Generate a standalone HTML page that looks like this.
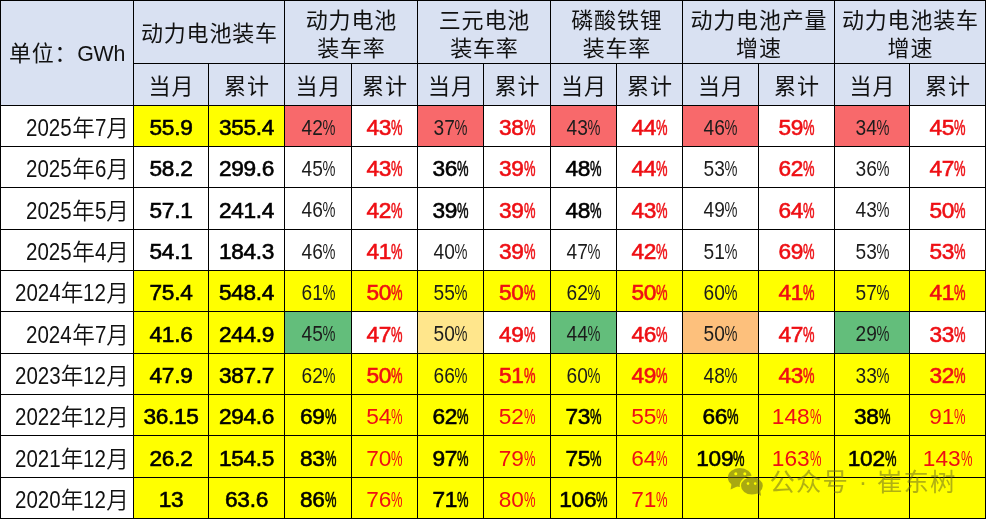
<!DOCTYPE html>
<html lang="zh-CN">
<head>
<meta charset="utf-8">
<title>动力电池装车</title>
<style>
html,body{margin:0;padding:0;background:#fff;}
body{width:987px;height:520px;overflow:hidden;position:relative;font-family:"Liberation Sans","Noto Sans CJK SC",sans-serif;}
#t{position:absolute;left:0;top:0;width:986px;height:519px;background:#000;}
.c{position:absolute;box-sizing:border-box;display:flex;align-items:center;justify-content:center;text-align:center;white-space:nowrap;overflow:visible;color:#111;}
.h{background:#D9E1F2;font-size:22px;font-weight:400;line-height:31px;color:#111;letter-spacing:0.8px;}
.h span{position:relative;display:block;top:1.2px;left:0.4px;}
.h .t2{line-height:28px;top:2.7px;}
.h .s2{top:2px;}
.h b{font-weight:400;font-size:21.33px;letter-spacing:-0.3px;}
.l{justify-content:flex-end;background:#fff;font-size:22.67px;font-weight:350;padding-right:4px;color:#111;}
.l span{position:relative;top:0.5px;}
.l i{font-style:normal;font-size:23.2px;font-weight:400;display:inline-block;transform:scaleX(.885);transform-origin:0 50%;text-align:left;}
.l .y4{width:45.8px;}
.l .m1{width:11.5px;}
.l .m2{width:23px;}
.n{font-size:22.67px;}
.n u{text-decoration:none;position:relative;top:1.5px;display:inline-block;}
.b{font-weight:400;color:#000;-webkit-text-stroke:0.6px currentColor;letter-spacing:-0.3px;}
.g{font-weight:400;font-size:22px;color:#1c1c1c;}
.g u{transform:scaleX(.87);left:0.5px;}
.r{color:#EE0F14;}
.p{display:inline-block;letter-spacing:0;transform-origin:0 50%;}
.b .p{width:11.5px;transform:scaleX(.57);}
.g .p{width:14.6px;transform:scaleX(.76);}
.a{font-weight:400;}
.a .p{width:11.5px;transform:scaleX(.57);}
</style>
</head>
<body>
<div id="t">
<div class="c h" style="left:1px;top:1px;width:132px;height:104px;justify-content:flex-start;padding-left:7.5px;"><span>单位：<b>GWh</b></span></div>
<div class="c h" style="left:134px;top:1px;width:150px;height:62px;"><span>动力电池装车</span></div>
<div class="c h" style="left:285px;top:1px;width:132px;height:62px;"><span class="t2">动力电池<br>装车率</span></div>
<div class="c h" style="left:418px;top:1px;width:132px;height:62px;"><span class="t2">三元电池<br>装车率</span></div>
<div class="c h" style="left:551px;top:1px;width:131px;height:62px;"><span class="t2">磷酸铁锂<br>装车率</span></div>
<div class="c h" style="left:683px;top:1px;width:151px;height:62px;"><span class="t2">动力电池产量<br>增速</span></div>
<div class="c h" style="left:835px;top:1px;width:150px;height:62px;"><span class="t2">动力电池装车<br>增速</span></div>
<div class="c h" style="left:134px;top:64px;width:74px;height:41px;"><span class="s2">当月</span></div>
<div class="c h" style="left:209px;top:64px;width:75px;height:41px;"><span class="s2">累计</span></div>
<div class="c h" style="left:285px;top:64px;width:66px;height:41px;"><span class="s2">当月</span></div>
<div class="c h" style="left:352px;top:64px;width:65px;height:41px;"><span class="s2">累计</span></div>
<div class="c h" style="left:418px;top:64px;width:65px;height:41px;"><span class="s2">当月</span></div>
<div class="c h" style="left:484px;top:64px;width:66px;height:41px;"><span class="s2">累计</span></div>
<div class="c h" style="left:551px;top:64px;width:65px;height:41px;"><span class="s2">当月</span></div>
<div class="c h" style="left:617px;top:64px;width:65px;height:41px;"><span class="s2">累计</span></div>
<div class="c h" style="left:683px;top:64px;width:75px;height:41px;"><span class="s2">当月</span></div>
<div class="c h" style="left:759px;top:64px;width:75px;height:41px;"><span class="s2">累计</span></div>
<div class="c h" style="left:835px;top:64px;width:74px;height:41px;"><span class="s2">当月</span></div>
<div class="c h" style="left:910px;top:64px;width:75px;height:41px;"><span class="s2">累计</span></div>
<div class="c l" style="left:1px;top:106px;width:132px;height:40px;"><span><i class="y4">2025</i>年<i class="m1">7</i>月</span></div>
<div class="c n b" style="left:134px;top:106px;width:74px;height:40px;background:#FFFF00;"><u>55.9</u></div>
<div class="c n b" style="left:209px;top:106px;width:75px;height:40px;background:#FFFF00;"><u>355.4</u></div>
<div class="c n g" style="left:285px;top:106px;width:66px;height:40px;background:#F8696B;"><u>42<span class="p">%</span></u></div>
<div class="c n b r" style="left:352px;top:106px;width:65px;height:40px;background:#FFFFFF;"><u>43<span class="p">%</span></u></div>
<div class="c n g" style="left:418px;top:106px;width:65px;height:40px;background:#F8696B;"><u>37<span class="p">%</span></u></div>
<div class="c n b r" style="left:484px;top:106px;width:66px;height:40px;background:#FFFFFF;"><u>38<span class="p">%</span></u></div>
<div class="c n g" style="left:551px;top:106px;width:65px;height:40px;background:#F8696B;"><u>43<span class="p">%</span></u></div>
<div class="c n b r" style="left:617px;top:106px;width:65px;height:40px;background:#FFFFFF;"><u>44<span class="p">%</span></u></div>
<div class="c n g" style="left:683px;top:106px;width:75px;height:40px;background:#F8696B;"><u>46<span class="p">%</span></u></div>
<div class="c n b r" style="left:759px;top:106px;width:75px;height:40px;background:#FFFFFF;"><u>59<span class="p">%</span></u></div>
<div class="c n g" style="left:835px;top:106px;width:74px;height:40px;background:#F8696B;"><u>34<span class="p">%</span></u></div>
<div class="c n b r" style="left:910px;top:106px;width:75px;height:40px;background:#FFFFFF;"><u>45<span class="p">%</span></u></div>
<div class="c l" style="left:1px;top:147px;width:132px;height:40px;"><span><i class="y4">2025</i>年<i class="m1">6</i>月</span></div>
<div class="c n b" style="left:134px;top:147px;width:74px;height:40px;background:#FFFFFF;"><u>58.2</u></div>
<div class="c n b" style="left:209px;top:147px;width:75px;height:40px;background:#FFFFFF;"><u>299.6</u></div>
<div class="c n g" style="left:285px;top:147px;width:66px;height:40px;background:#FFFFFF;"><u>45<span class="p">%</span></u></div>
<div class="c n b r" style="left:352px;top:147px;width:65px;height:40px;background:#FFFFFF;"><u>43<span class="p">%</span></u></div>
<div class="c n b" style="left:418px;top:147px;width:65px;height:40px;background:#FFFFFF;"><u>36<span class="p">%</span></u></div>
<div class="c n b r" style="left:484px;top:147px;width:66px;height:40px;background:#FFFFFF;"><u>39<span class="p">%</span></u></div>
<div class="c n b" style="left:551px;top:147px;width:65px;height:40px;background:#FFFFFF;"><u>48<span class="p">%</span></u></div>
<div class="c n b r" style="left:617px;top:147px;width:65px;height:40px;background:#FFFFFF;"><u>44<span class="p">%</span></u></div>
<div class="c n g" style="left:683px;top:147px;width:75px;height:40px;background:#FFFFFF;"><u>53<span class="p">%</span></u></div>
<div class="c n b r" style="left:759px;top:147px;width:75px;height:40px;background:#FFFFFF;"><u>62<span class="p">%</span></u></div>
<div class="c n g" style="left:835px;top:147px;width:74px;height:40px;background:#FFFFFF;"><u>36<span class="p">%</span></u></div>
<div class="c n b r" style="left:910px;top:147px;width:75px;height:40px;background:#FFFFFF;"><u>47<span class="p">%</span></u></div>
<div class="c l" style="left:1px;top:188px;width:132px;height:41px;"><span><i class="y4">2025</i>年<i class="m1">5</i>月</span></div>
<div class="c n b" style="left:134px;top:188px;width:74px;height:41px;background:#FFFFFF;"><u>57.1</u></div>
<div class="c n b" style="left:209px;top:188px;width:75px;height:41px;background:#FFFFFF;"><u>241.4</u></div>
<div class="c n g" style="left:285px;top:188px;width:66px;height:41px;background:#FFFFFF;"><u>46<span class="p">%</span></u></div>
<div class="c n b r" style="left:352px;top:188px;width:65px;height:41px;background:#FFFFFF;"><u>42<span class="p">%</span></u></div>
<div class="c n b" style="left:418px;top:188px;width:65px;height:41px;background:#FFFFFF;"><u>39<span class="p">%</span></u></div>
<div class="c n b r" style="left:484px;top:188px;width:66px;height:41px;background:#FFFFFF;"><u>39<span class="p">%</span></u></div>
<div class="c n b" style="left:551px;top:188px;width:65px;height:41px;background:#FFFFFF;"><u>48<span class="p">%</span></u></div>
<div class="c n b r" style="left:617px;top:188px;width:65px;height:41px;background:#FFFFFF;"><u>43<span class="p">%</span></u></div>
<div class="c n g" style="left:683px;top:188px;width:75px;height:41px;background:#FFFFFF;"><u>49<span class="p">%</span></u></div>
<div class="c n b r" style="left:759px;top:188px;width:75px;height:41px;background:#FFFFFF;"><u>64<span class="p">%</span></u></div>
<div class="c n g" style="left:835px;top:188px;width:74px;height:41px;background:#FFFFFF;"><u>43<span class="p">%</span></u></div>
<div class="c n b r" style="left:910px;top:188px;width:75px;height:41px;background:#FFFFFF;"><u>50<span class="p">%</span></u></div>
<div class="c l" style="left:1px;top:230px;width:132px;height:40px;"><span><i class="y4">2025</i>年<i class="m1">4</i>月</span></div>
<div class="c n b" style="left:134px;top:230px;width:74px;height:40px;background:#FFFFFF;"><u>54.1</u></div>
<div class="c n b" style="left:209px;top:230px;width:75px;height:40px;background:#FFFFFF;"><u>184.3</u></div>
<div class="c n g" style="left:285px;top:230px;width:66px;height:40px;background:#FFFFFF;"><u>46<span class="p">%</span></u></div>
<div class="c n b r" style="left:352px;top:230px;width:65px;height:40px;background:#FFFFFF;"><u>41<span class="p">%</span></u></div>
<div class="c n g" style="left:418px;top:230px;width:65px;height:40px;background:#FFFFFF;"><u>40<span class="p">%</span></u></div>
<div class="c n b r" style="left:484px;top:230px;width:66px;height:40px;background:#FFFFFF;"><u>39<span class="p">%</span></u></div>
<div class="c n g" style="left:551px;top:230px;width:65px;height:40px;background:#FFFFFF;"><u>47<span class="p">%</span></u></div>
<div class="c n b r" style="left:617px;top:230px;width:65px;height:40px;background:#FFFFFF;"><u>42<span class="p">%</span></u></div>
<div class="c n g" style="left:683px;top:230px;width:75px;height:40px;background:#FFFFFF;"><u>51<span class="p">%</span></u></div>
<div class="c n b r" style="left:759px;top:230px;width:75px;height:40px;background:#FFFFFF;"><u>69<span class="p">%</span></u></div>
<div class="c n g" style="left:835px;top:230px;width:74px;height:40px;background:#FFFFFF;"><u>53<span class="p">%</span></u></div>
<div class="c n b r" style="left:910px;top:230px;width:75px;height:40px;background:#FFFFFF;"><u>53<span class="p">%</span></u></div>
<div class="c l" style="left:1px;top:271px;width:132px;height:40px;"><span><i class="y4">2024</i>年<i class="m2">12</i>月</span></div>
<div class="c n b" style="left:134px;top:271px;width:74px;height:40px;background:#FFFF00;"><u>75.4</u></div>
<div class="c n b" style="left:209px;top:271px;width:75px;height:40px;background:#FFFF00;"><u>548.4</u></div>
<div class="c n g" style="left:285px;top:271px;width:66px;height:40px;background:#FFFF00;"><u>61<span class="p">%</span></u></div>
<div class="c n b r" style="left:352px;top:271px;width:65px;height:40px;background:#FFFF00;"><u>50<span class="p">%</span></u></div>
<div class="c n g" style="left:418px;top:271px;width:65px;height:40px;background:#FFFF00;"><u>55<span class="p">%</span></u></div>
<div class="c n b r" style="left:484px;top:271px;width:66px;height:40px;background:#FFFF00;"><u>50<span class="p">%</span></u></div>
<div class="c n g" style="left:551px;top:271px;width:65px;height:40px;background:#FFFF00;"><u>62<span class="p">%</span></u></div>
<div class="c n b r" style="left:617px;top:271px;width:65px;height:40px;background:#FFFF00;"><u>50<span class="p">%</span></u></div>
<div class="c n g" style="left:683px;top:271px;width:75px;height:40px;background:#FFFF00;"><u>60<span class="p">%</span></u></div>
<div class="c n b r" style="left:759px;top:271px;width:75px;height:40px;background:#FFFF00;"><u>41<span class="p">%</span></u></div>
<div class="c n g" style="left:835px;top:271px;width:74px;height:40px;background:#FFFF00;"><u>57<span class="p">%</span></u></div>
<div class="c n b r" style="left:910px;top:271px;width:75px;height:40px;background:#FFFF00;"><u>41<span class="p">%</span></u></div>
<div class="c l" style="left:1px;top:312px;width:132px;height:41px;"><span><i class="y4">2024</i>年<i class="m1">7</i>月</span></div>
<div class="c n b" style="left:134px;top:312px;width:74px;height:41px;background:#FFFF00;"><u>41.6</u></div>
<div class="c n b" style="left:209px;top:312px;width:75px;height:41px;background:#FFFF00;"><u>244.9</u></div>
<div class="c n g" style="left:285px;top:312px;width:66px;height:41px;background:#63BE7B;"><u>45<span class="p">%</span></u></div>
<div class="c n b r" style="left:352px;top:312px;width:65px;height:41px;background:#FFFFFF;"><u>47<span class="p">%</span></u></div>
<div class="c n g" style="left:418px;top:312px;width:65px;height:41px;background:#FFE68C;"><u>50<span class="p">%</span></u></div>
<div class="c n b r" style="left:484px;top:312px;width:66px;height:41px;background:#FFFFFF;"><u>49<span class="p">%</span></u></div>
<div class="c n g" style="left:551px;top:312px;width:65px;height:41px;background:#63BE7B;"><u>44<span class="p">%</span></u></div>
<div class="c n b r" style="left:617px;top:312px;width:65px;height:41px;background:#FFFFFF;"><u>46<span class="p">%</span></u></div>
<div class="c n g" style="left:683px;top:312px;width:75px;height:41px;background:#FDC07C;"><u>50<span class="p">%</span></u></div>
<div class="c n b r" style="left:759px;top:312px;width:75px;height:41px;background:#FFFFFF;"><u>47<span class="p">%</span></u></div>
<div class="c n g" style="left:835px;top:312px;width:74px;height:41px;background:#63BE7B;"><u>29<span class="p">%</span></u></div>
<div class="c n b r" style="left:910px;top:312px;width:75px;height:41px;background:#FFFFFF;"><u>33<span class="p">%</span></u></div>
<div class="c l" style="left:1px;top:354px;width:132px;height:40px;"><span><i class="y4">2023</i>年<i class="m2">12</i>月</span></div>
<div class="c n b" style="left:134px;top:354px;width:74px;height:40px;background:#FFFF00;"><u>47.9</u></div>
<div class="c n b" style="left:209px;top:354px;width:75px;height:40px;background:#FFFF00;"><u>387.7</u></div>
<div class="c n g" style="left:285px;top:354px;width:66px;height:40px;background:#FFFF00;"><u>62<span class="p">%</span></u></div>
<div class="c n b r" style="left:352px;top:354px;width:65px;height:40px;background:#FFFF00;"><u>50<span class="p">%</span></u></div>
<div class="c n g" style="left:418px;top:354px;width:65px;height:40px;background:#FFFF00;"><u>66<span class="p">%</span></u></div>
<div class="c n b r" style="left:484px;top:354px;width:66px;height:40px;background:#FFFF00;"><u>51<span class="p">%</span></u></div>
<div class="c n g" style="left:551px;top:354px;width:65px;height:40px;background:#FFFF00;"><u>60<span class="p">%</span></u></div>
<div class="c n b r" style="left:617px;top:354px;width:65px;height:40px;background:#FFFF00;"><u>49<span class="p">%</span></u></div>
<div class="c n g" style="left:683px;top:354px;width:75px;height:40px;background:#FFFF00;"><u>48<span class="p">%</span></u></div>
<div class="c n b r" style="left:759px;top:354px;width:75px;height:40px;background:#FFFF00;"><u>43<span class="p">%</span></u></div>
<div class="c n g" style="left:835px;top:354px;width:74px;height:40px;background:#FFFF00;"><u>33<span class="p">%</span></u></div>
<div class="c n b r" style="left:910px;top:354px;width:75px;height:40px;background:#FFFF00;"><u>32<span class="p">%</span></u></div>
<div class="c l" style="left:1px;top:395px;width:132px;height:40px;"><span><i class="y4">2022</i>年<i class="m2">12</i>月</span></div>
<div class="c n b" style="left:134px;top:395px;width:74px;height:40px;background:#FFFF00;"><u>36.15</u></div>
<div class="c n b" style="left:209px;top:395px;width:75px;height:40px;background:#FFFF00;"><u>294.6</u></div>
<div class="c n b" style="left:285px;top:395px;width:66px;height:40px;background:#FFFF00;"><u>69<span class="p">%</span></u></div>
<div class="c n a r" style="left:352px;top:395px;width:65px;height:40px;background:#FFFF00;"><u>54<span class="p">%</span></u></div>
<div class="c n b" style="left:418px;top:395px;width:65px;height:40px;background:#FFFF00;"><u>62<span class="p">%</span></u></div>
<div class="c n a r" style="left:484px;top:395px;width:66px;height:40px;background:#FFFF00;"><u>52<span class="p">%</span></u></div>
<div class="c n b" style="left:551px;top:395px;width:65px;height:40px;background:#FFFF00;"><u>73<span class="p">%</span></u></div>
<div class="c n a r" style="left:617px;top:395px;width:65px;height:40px;background:#FFFF00;"><u>55<span class="p">%</span></u></div>
<div class="c n b" style="left:683px;top:395px;width:75px;height:40px;background:#FFFF00;"><u>66<span class="p">%</span></u></div>
<div class="c n a r" style="left:759px;top:395px;width:75px;height:40px;background:#FFFF00;"><u>148<span class="p">%</span></u></div>
<div class="c n b" style="left:835px;top:395px;width:74px;height:40px;background:#FFFF00;"><u>38<span class="p">%</span></u></div>
<div class="c n a r" style="left:910px;top:395px;width:75px;height:40px;background:#FFFF00;"><u>91<span class="p">%</span></u></div>
<div class="c l" style="left:1px;top:436px;width:132px;height:41px;"><span><i class="y4">2021</i>年<i class="m2">12</i>月</span></div>
<div class="c n b" style="left:134px;top:436px;width:74px;height:41px;background:#FFFF00;"><u>26.2</u></div>
<div class="c n b" style="left:209px;top:436px;width:75px;height:41px;background:#FFFF00;"><u>154.5</u></div>
<div class="c n b" style="left:285px;top:436px;width:66px;height:41px;background:#FFFF00;"><u>83<span class="p">%</span></u></div>
<div class="c n a r" style="left:352px;top:436px;width:65px;height:41px;background:#FFFF00;"><u>70<span class="p">%</span></u></div>
<div class="c n b" style="left:418px;top:436px;width:65px;height:41px;background:#FFFF00;"><u>97<span class="p">%</span></u></div>
<div class="c n a r" style="left:484px;top:436px;width:66px;height:41px;background:#FFFF00;"><u>79<span class="p">%</span></u></div>
<div class="c n b" style="left:551px;top:436px;width:65px;height:41px;background:#FFFF00;"><u>75<span class="p">%</span></u></div>
<div class="c n a r" style="left:617px;top:436px;width:65px;height:41px;background:#FFFF00;"><u>64<span class="p">%</span></u></div>
<div class="c n b" style="left:683px;top:436px;width:75px;height:41px;background:#FFFF00;"><u>109<span class="p">%</span></u></div>
<div class="c n a r" style="left:759px;top:436px;width:75px;height:41px;background:#FFFF00;"><u>163<span class="p">%</span></u></div>
<div class="c n b" style="left:835px;top:436px;width:74px;height:41px;background:#FFFF00;"><u>102<span class="p">%</span></u></div>
<div class="c n a r" style="left:910px;top:436px;width:75px;height:41px;background:#FFFF00;"><u>143<span class="p">%</span></u></div>
<div class="c l" style="left:1px;top:478px;width:132px;height:40px;"><span><i class="y4">2020</i>年<i class="m2">12</i>月</span></div>
<div class="c n b" style="left:134px;top:478px;width:74px;height:40px;background:#FFFF00;"><u>13</u></div>
<div class="c n b" style="left:209px;top:478px;width:75px;height:40px;background:#FFFF00;"><u>63.6</u></div>
<div class="c n b" style="left:285px;top:478px;width:66px;height:40px;background:#FFFF00;"><u>86<span class="p">%</span></u></div>
<div class="c n a r" style="left:352px;top:478px;width:65px;height:40px;background:#FFFF00;"><u>76<span class="p">%</span></u></div>
<div class="c n b" style="left:418px;top:478px;width:65px;height:40px;background:#FFFF00;"><u>71<span class="p">%</span></u></div>
<div class="c n a r" style="left:484px;top:478px;width:66px;height:40px;background:#FFFF00;"><u>80<span class="p">%</span></u></div>
<div class="c n b" style="left:551px;top:478px;width:65px;height:40px;background:#FFFF00;"><u>106<span class="p">%</span></u></div>
<div class="c n a r" style="left:617px;top:478px;width:65px;height:40px;background:#FFFF00;"><u>71<span class="p">%</span></u></div>
<div class="c n b" style="left:683px;top:478px;width:75px;height:40px;background:#FFFF00;"></div>
<div class="c n a r" style="left:759px;top:478px;width:75px;height:40px;background:#FFFF00;"></div>
<div class="c n b" style="left:835px;top:478px;width:74px;height:40px;background:#FFFF00;"></div>
<div class="c n a r" style="left:910px;top:478px;width:75px;height:40px;background:#FFFF00;"></div>
</div>
<div id="wm" style="position:absolute;left:726px;top:466px;width:240px;height:32px;">
<svg width="40" height="32" viewBox="0 0 40 32" style="position:absolute;left:0;top:0;overflow:visible">
<defs><mask id="m1" maskUnits="userSpaceOnUse" x="0" y="0" width="40" height="32"><rect x="0" y="0" width="40" height="32" fill="#fff"/><ellipse cx="25.9" cy="19.8" rx="12.2" ry="10" fill="#000"/><circle cx="9.8" cy="7.8" r="1.5" fill="#000"/><circle cx="18.8" cy="7.8" r="1.5" fill="#000"/></mask>
<mask id="m2" maskUnits="userSpaceOnUse" x="0" y="0" width="40" height="32"><rect x="0" y="0" width="40" height="32" fill="#fff"/><circle cx="22" cy="17.6" r="1.3" fill="#000"/><circle cx="29.2" cy="17.6" r="1.3" fill="#000"/></mask></defs>
<g fill="#69691f" opacity=".57">
<g mask="url(#m1)"><ellipse cx="13.8" cy="11.5" rx="11.9" ry="9.6"/><path d="M5.6 17.2 L4.6 23.4 L11.6 20.2 Z"/></g>
<g mask="url(#m2)"><ellipse cx="25.9" cy="19.8" rx="10.9" ry="8.7"/><path d="M30 26.6 L35 30 L34.2 24 Z"/></g>
</g></svg>
<div style="position:absolute;left:43.6px;top:-2.5px;line-height:37px;font-size:25.4px;letter-spacing:1.1px;color:rgba(105,105,35,.52);white-space:nowrap;">公众号<span style="display:inline-block;width:28px;text-align:center;letter-spacing:0;">·</span>崔东树</div>
</div>
</body>
</html>
